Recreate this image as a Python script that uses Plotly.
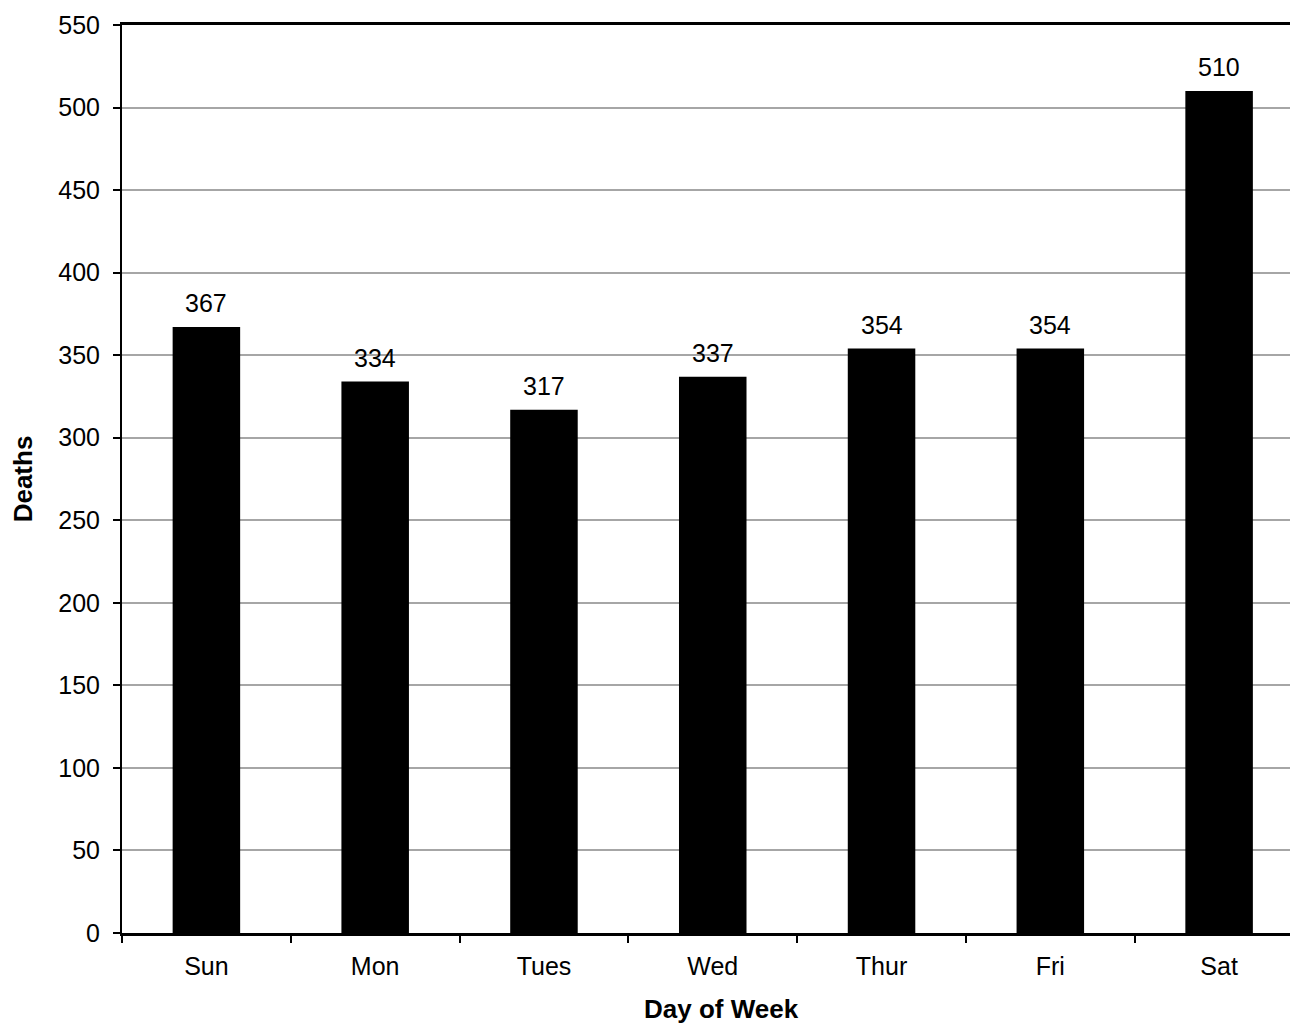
import plotly.graph_objects as go

days = ["Sun", "Mon", "Tues", "Wed", "Thur", "Fri", "Sat"]
deaths = [367, 334, 317, 337, 354, 354, 510]
y_ticks = list(range(0, 551, 50))

FONT = "Liberation Sans, Arial, sans-serif"

fig = go.Figure()
fig.add_trace(go.Bar(
    x=days, y=deaths, width=0.4,
    marker=dict(color="black", line=dict(width=0)),
))

for d, v in zip(days, deaths):
    fig.add_annotation(x=d, y=v, text=str(v), showarrow=False,
                       yanchor="bottom", yshift=8,
                       font=dict(family=FONT, size=25, color="black"))

# x-axis title (centred on the full category span, part of which is cut off at the right)
fig.add_annotation(x=0.513, y=0, xref="paper", yref="paper", yanchor="middle",
                   yshift=-76, showarrow=False, text="<b>Day of Week</b>",
                   font=dict(family=FONT, size=26, color="black"))

fig.update_layout(
    width=1291, height=1025,
    margin=dict(l=122, r=1, t=25, b=92),
    plot_bgcolor="white", paper_bgcolor="white",
    showlegend=False,
    font=dict(family=FONT, size=25, color="black"),
)
fig.update_xaxes(
    range=[-0.5, 6.42],
    tickson="boundaries", ticks="outside", ticklen=7, tickwidth=2, tickcolor="black",
    showline=True, linecolor="black", linewidth=3, mirror=True,
    showgrid=False, ticklabelstandoff=9,
    tickfont=dict(family=FONT, size=25),
)
fig.update_yaxes(
    range=[0, 550], tickvals=y_ticks,
    ticks="outside", ticklen=7, tickwidth=2, tickcolor="black",
    showline=True, linecolor="black", linewidth=2,
    showgrid=True, gridcolor="#a6a6a6", gridwidth=2,
    zeroline=False, ticklabelstandoff=8,
    tickfont=dict(family=FONT, size=25),
    title=dict(text="<b>Deaths</b>", font=dict(family=FONT, size=26), standoff=18),
)

fig.write_html("out.html", config={"displayModeBar": False},
               post_script="document.body.style.margin='0';document.body.style.overflow='hidden';")
